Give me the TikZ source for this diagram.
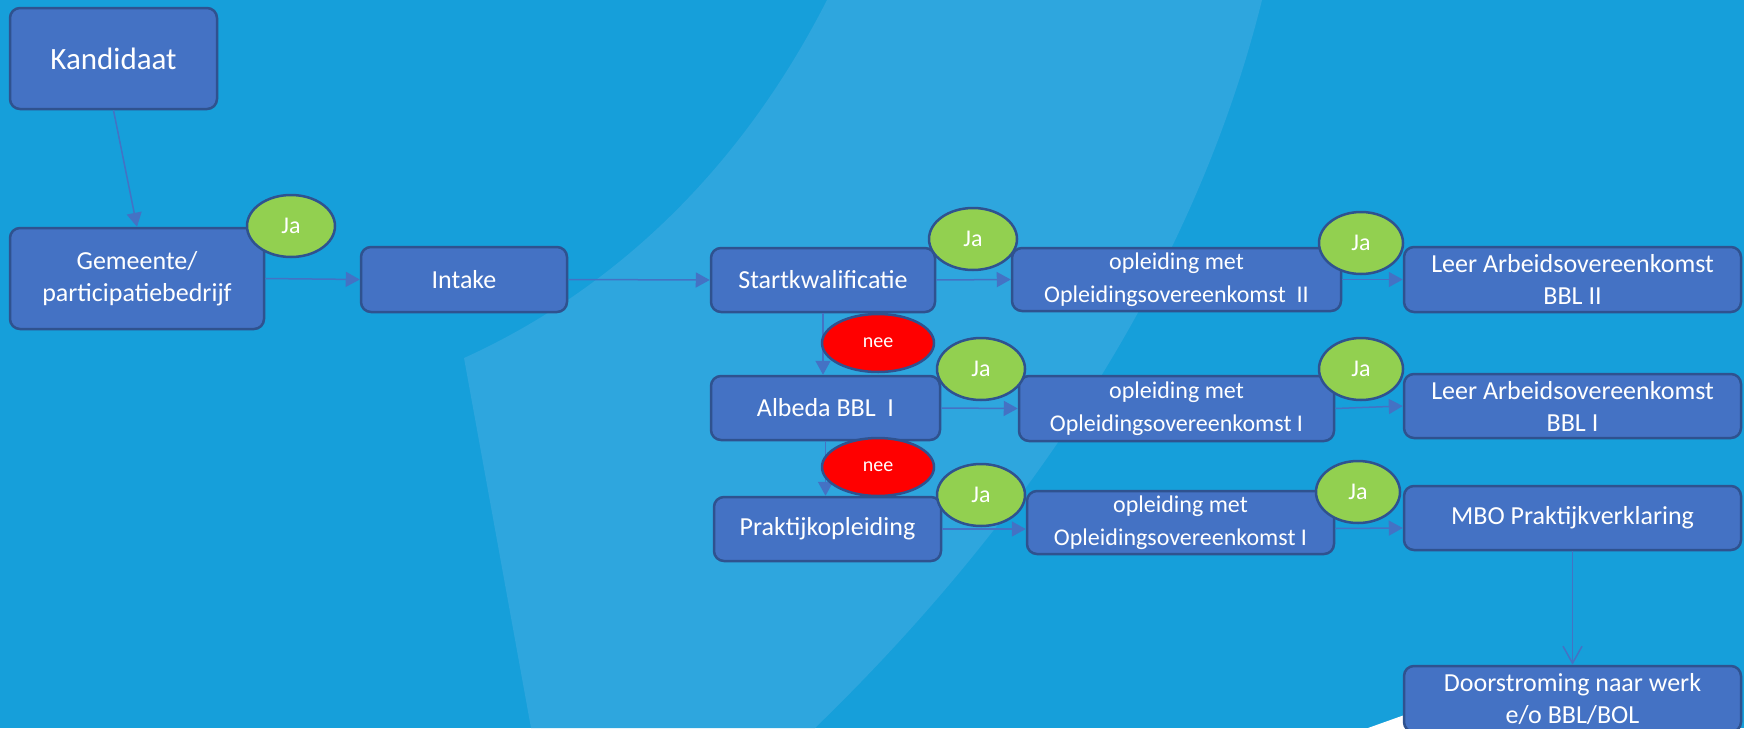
\documentclass[tikz,border=0pt]{standalone}
\usepackage{fontspec}
\setmainfont{Carlito}
\usetikzlibrary{shapes.geometric,arrows.meta}
\definecolor{bgblue}{HTML}{169FDA}
\definecolor{bandblue}{HTML}{2EA6DE}
\definecolor{boxfill}{HTML}{4472C4}
\definecolor{boxline}{HTML}{2F528F}
\definecolor{jagreen}{HTML}{92D050}
\definecolor{neered}{HTML}{FF0000}
\definecolor{conn}{HTML}{4472C4}
\tikzset{
  flowbox/.style={draw=boxline, line width=2.5pt, fill=boxfill, rounded corners=10pt,
    text=white, align=center, inner sep=0pt},
  bigtxt/.style={font=\fontsize{26}{32}\selectfont},
  smalltxt/.style={font=\fontsize{24}{33}\selectfont},
  jabubble/.style={ellipse, draw=boxline, line width=2.5pt, fill=jagreen, text=white,
    inner sep=0pt, minimum width=88pt, minimum height=62pt, font=\fontsize{24}{28}\selectfont},
  neebubble/.style={ellipse, draw=boxline, line width=2.5pt, fill=neered, text=white,
    inner sep=0pt, minimum width=112pt, minimum height=58pt, font=\fontsize{20}{24}\selectfont},
  arrowline/.style={draw=conn, line width=1.5pt, -{Triangle[length=14pt,width=15pt]}},
  openarrow/.style={draw=conn, line width=1.5pt, -{Straight Barb[length=17pt,width=19pt]}}
}
\begin{document}
\begin{tikzpicture}[x=1pt,y=-1pt]
\useasboundingbox (0,0) rectangle (1744,728);
\clip (0,0) rectangle (1744,728);
\fill[bgblue] (0,0) rectangle (1744,728);
% light band
\fill[bandblue] (827,0) .. controls (720,210) and (570,310) .. (464,358)
  -- (531,728) -- (815,728) .. controls (1050,500) and (1200,250) .. (1262,0) -- cycle;
% white shape bottom right
\fill[white] (1368,728) -- (1410,713) -- (1410,728) -- cycle;

% boxes
\node[flowbox, minimum width=207pt, minimum height=101pt, font=\fontsize{31}{36}\selectfont] (kand) at (113.5,58.5) {Kandidaat};
\node[flowbox, bigtxt, minimum width=254pt, minimum height=101pt] (gem) at (137,278.5) {Gemeente/\\participatiebedrijf};
\node[flowbox, bigtxt, minimum width=206pt, minimum height=65pt] (intake) at (464,279.5) {Intake};
\node[flowbox, bigtxt, minimum width=224pt, minimum height=64pt] (start) at (823,280) {Startkwalificatie};
\node[flowbox, smalltxt, minimum width=329pt, minimum height=63pt] (opl1) at (1176.5,279.5) {opleiding met\\Opleidingsovereenkomst\ \ II};
\node[flowbox, bigtxt, minimum width=337pt, minimum height=65pt] (leer2) at (1572.5,279.5) {Leer Arbeidsovereenkomst\\BBL II};
\node[flowbox, bigtxt, minimum width=229pt, minimum height=64pt] (albeda) at (825.5,408) {Albeda BBL\ \ I};
\node[flowbox, smalltxt, minimum width=315pt, minimum height=65pt] (opl2) at (1176.5,408.5) {opleiding met\\Opleidingsovereenkomst I};
\node[flowbox, bigtxt, minimum width=337pt, minimum height=64pt] (leer1) at (1572.5,406) {Leer Arbeidsovereenkomst\\BBL I};
\node[flowbox, bigtxt, minimum width=227pt, minimum height=64pt] (prakt) at (827.5,529) {Praktijkopleiding};
\node[flowbox, smalltxt, minimum width=307pt, minimum height=63pt] (opl3) at (1180.5,522.5) {opleiding met\\Opleidingsovereenkomst I};
\node[flowbox, bigtxt, minimum width=337pt, minimum height=66pt] (door) at (1572.5,699) {Doorstroming naar werk\\e/o BBL/BOL};
\node[flowbox, bigtxt, minimum width=337pt, minimum height=64pt] (mbo) at (1572.5,518) {MBO Praktijkverklaring};

% connectors
\draw[arrowline] (kand.south) -- (gem.north);
\draw[arrowline] (gem.east) -- (intake.west);
\draw[arrowline] (intake.east) -- (start.west);
\draw[arrowline] (start.east) -- (opl1.west);
\draw[arrowline] (opl1.east) -- (leer2.west);
\draw[arrowline] (start.south) -- (start.south |- albeda.north);
\draw[arrowline] (albeda.east) -- (opl2.west);
\draw[arrowline] (opl2.east) -- (leer1.west);
\draw[arrowline] (albeda.south) -- (albeda.south |- prakt.north);
\draw[arrowline] (prakt.east) -- (prakt.east -| opl3.west);
\draw[arrowline] ([yshift=-6pt]opl3.east) -- ([yshift=-10pt]mbo.west);
\draw[openarrow] (mbo.south) -- (door.north);

% bubbles
\node[jabubble] (ja1) at (291,226) {Ja};
\node[jabubble] (ja2) at (973,239) {Ja};
\node[jabubble, minimum width=84pt] (ja3) at (1361,243) {Ja};
\node[jabubble] (ja4) at (981,369) {Ja};
\node[jabubble, minimum width=84pt] (ja5) at (1361,369) {Ja};
\node[jabubble] (ja6) at (981,495) {Ja};
\node[jabubble, minimum width=84pt] (ja7) at (1358,492) {Ja};
\node[neebubble] (nee1) at (878,343) {nee};
\node[neebubble] (nee2) at (878,467) {nee};
\end{tikzpicture}
\end{document}
